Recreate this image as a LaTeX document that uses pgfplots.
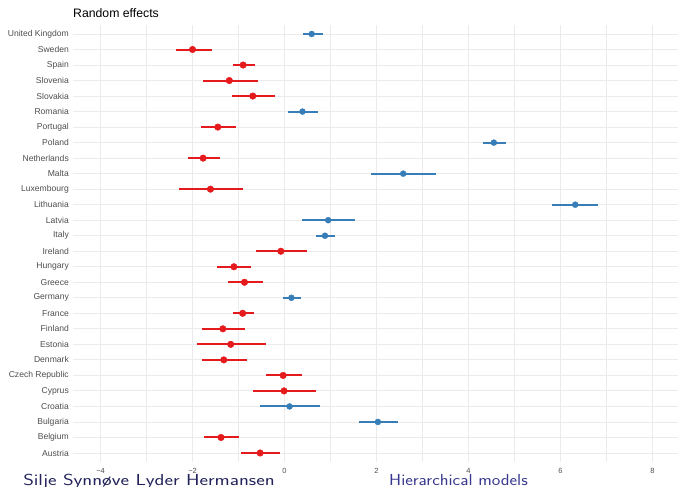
\documentclass[border=0pt]{standalone}
\usepackage{fontspec}
\setmainfont{Liberation Sans}
\usepackage{pgfplots}
\usepackage{pgfplotstable}
\pgfplotsset{compat=1.18}
\definecolor{setred}{HTML}{E41A1C}
\definecolor{setblue}{HTML}{377EB8}
\definecolor{gridc}{HTML}{EBEBEB}
\definecolor{labc}{HTML}{4D4D4D}
\definecolor{footA}{HTML}{23235B}
\definecolor{footB}{HTML}{38388E}
\pgfplotstableread{
x y em ep
-0.53 1 0.41 0.43
-1.38 2 0.36 0.38
-0.01 5 0.67 0.70
-0.03 6 0.37 0.40
-1.32 7 0.47 0.50
-1.17 8 0.73 0.77
-1.34 9 0.46 0.48
-0.91 10 0.22 0.24
-0.87 12 0.36 0.40
-1.10 13 0.36 0.37
-0.08 14 0.54 0.56
-1.61 18 0.68 0.70
-1.77 20 0.32 0.37
-1.45 22 0.37 0.40
-0.69 24 0.46 0.49
-1.20 25 0.58 0.62
-0.90 26 0.23 0.25
-2.00 27 0.36 0.42
}\reddata
\pgfplotstableread{
x y em ep
2.03 3 0.41 0.43
0.11 4 0.64 0.66
0.15 11 0.18 0.20
0.88 15 0.20 0.22
0.95 16 0.57 0.58
6.32 17 0.50 0.50
2.58 19 0.70 0.72
4.55 21 0.23 0.26
0.39 23 0.31 0.33
0.59 28 0.19 0.24
}\bluedata
\begin{document}
\begin{tikzpicture}[x=1bp,y=1bp]
\useasboundingbox (0,0) rectangle (678,487);
\begin{axis}[
  at={(73bp,25bp)}, anchor=south west,
  scale only axis, width=605bp, height=437bp,
  xmin=-4.598, xmax=8.554, ymin=0.42, ymax=28.58,
  axis line style={draw=none},
  major tick length=0pt, minor tick length=0pt,
  xtick={-4,-2,0,2,4,6,8},
  xticklabels={−4,−2,0,2,4,6,8},
  minor xtick={-3,-1,1,3,5,7},
  ytick={1,...,28},
  yticklabels={Austria,Belgium,Bulgaria,Croatia,Cyprus,Czech Republic,Denmark,Estonia,Finland,France,Germany,Greece,Hungary,Ireland,Italy,Latvia,Lithuania,Luxembourg,Malta,Netherlands,Poland,Portugal,Romania,Slovakia,Slovenia,Spain,Sweden,United Kingdom},
  grid=both,
  major grid style={gridc, line width=0.9bp},
  minor grid style={gridc, line width=0.9bp},
  yticklabel style={font=\fontsize{8.6}{10}\selectfont, text=labc, anchor=east, inner sep=0pt, xshift=-4bp},
  xticklabel style={font=\fontsize{7.5}{9}\selectfont, text=labc, anchor=base, inner sep=0pt, yshift=-12bp},
  clip=false,
]
\addplot[only marks, mark=*, mark size=3.3bp, color=setred, mark options={draw=setred, fill=setred},
  error bars/.cd, x dir=both, x explicit, error mark=none,
  error bar style={line width=2bp, setred}]
  table[x=x, y=y, x error plus=ep, x error minus=em] {\reddata};
\addplot[only marks, mark=*, mark size=3.0bp, color=setblue, mark options={draw=setblue, fill=setblue},
  error bars/.cd, x dir=both, x explicit, error mark=none,
  error bar style={line width=2bp, setblue}]
  table[x=x, y=y, x error plus=ep, x error minus=em] {\bluedata};
\end{axis}
\node[anchor=base west, inner sep=0pt, font=\fontsize{12.3}{14}\selectfont] at (73,469.5) {Random effects};
\node[anchor=base west, inner sep=0pt, xscale=1.28, font=\sffamily\fontsize{16}{19}\selectfont, text=footA] at (23,1.5) {Silje Synnøve Lyder Hermansen};
\node[anchor=base west, inner sep=0pt, xscale=1.14, font=\sffamily\fontsize{16}{19}\selectfont, text=footB] at (389,1.5) {Hierarchical models};
\end{tikzpicture}
\end{document}
